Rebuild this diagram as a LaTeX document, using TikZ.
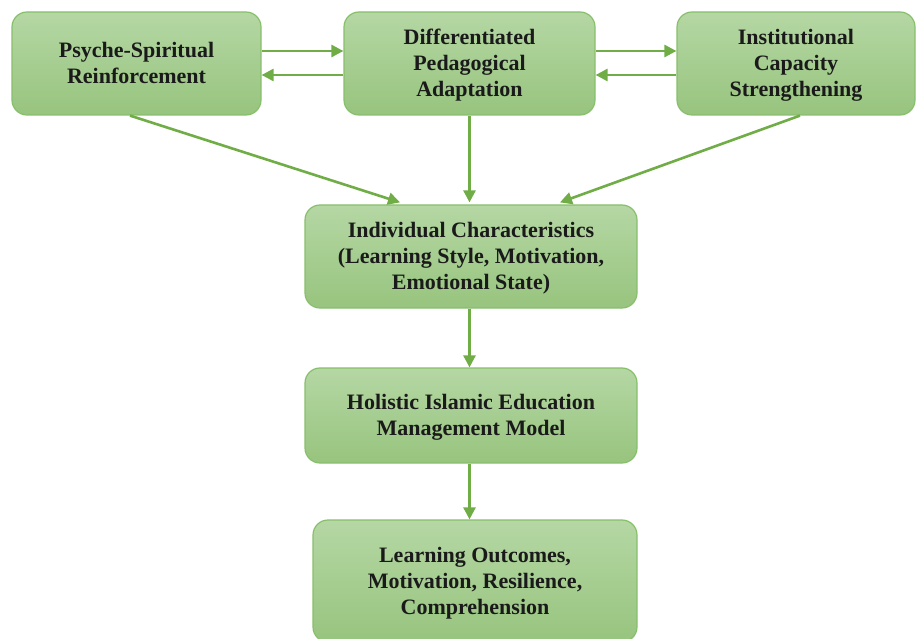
\documentclass[tikz,border=0pt]{standalone}
\usepackage{fontspec}
\setmainfont{Liberation Serif}
\usetikzlibrary{arrows.meta}
\definecolor{gtop}{HTML}{B5D7A4}
\definecolor{gbot}{HTML}{97C47E}
\definecolor{gline}{HTML}{88BF6C}
\definecolor{garrow}{HTML}{70AD47}
\definecolor{txt}{HTML}{1A1A1A}
\newcommand\boxtext[1]{\raisebox{-2pt}[\height][\depth]{\begin{tabular}{@{}c@{}}#1\end{tabular}}}
\tikzset{
  box/.style={draw=gline, line width=1.2pt, rounded corners=15pt,
    top color=gtop, bottom color=gbot, align=center, inner sep=0pt,
    text=txt, font=\fontsize{22}{26}\selectfont\bfseries},
  arr/.style={draw=garrow, line width=2.6pt, -{Triangle[length=12pt,width=12pt]}}
}
\begin{document}
\begin{tikzpicture}[x=1pt,y=1pt]
\useasboundingbox (0,0) rectangle (916,-639);
\node[box, minimum width=249pt, minimum height=103pt] (A) at (136.5,-63.5) {\boxtext{Psyche-Spiritual\\Reinforcement}};
\node[box, minimum width=251pt, minimum height=103pt] (B) at (469.5,-63.5) {\boxtext{Differentiated\\Pedagogical\\Adaptation}};
\node[box, minimum width=238pt, minimum height=103pt] (C) at (796,-63.5) {\boxtext{Institutional\\Capacity\\Strengthening}};
\node[box, minimum width=332pt, minimum height=103pt] (D) at (471,-256.5) {\boxtext{Individual Characteristics\\(Learning Style, Motivation,\\Emotional State)}};
\node[box, minimum width=332pt, minimum height=95pt] (E) at (471,-415.5) {\boxtext{Holistic Islamic Education\\Management Model}};
\node[box, minimum width=324pt, minimum height=122pt] (F) at (475,-581) {\boxtext{Learning Outcomes,\\Motivation, Resilience,\\Comprehension}};
\draw[arr] ([yshift=12.5pt]A.east) -- ([yshift=12.5pt]B.west);
\draw[arr] ([yshift=-11.5pt]B.west) -- ([yshift=-11.5pt]A.east);
\draw[arr] ([yshift=12.5pt]B.east) -- ([yshift=12.5pt]C.west);
\draw[arr] ([yshift=-11.5pt]C.west) -- ([yshift=-11.5pt]B.east);
\draw[arr] ([xshift=-6.5pt]A.south) -- ([xshift=-71pt,yshift=2pt]D.north);
\draw[arr] (B.south) -- ([yshift=2pt]B.south |- D.north);
\draw[arr] ([xshift=4pt]C.south) -- ([xshift=89pt,yshift=2pt]D.north);
\draw[arr] ([xshift=-1.5pt]D.south) -- ([xshift=-1.5pt]E.north);
\draw[arr] ([xshift=-1.5pt]E.south) -- ([xshift=-1.5pt]E.south |- F.north);
\end{tikzpicture}
\end{document}
